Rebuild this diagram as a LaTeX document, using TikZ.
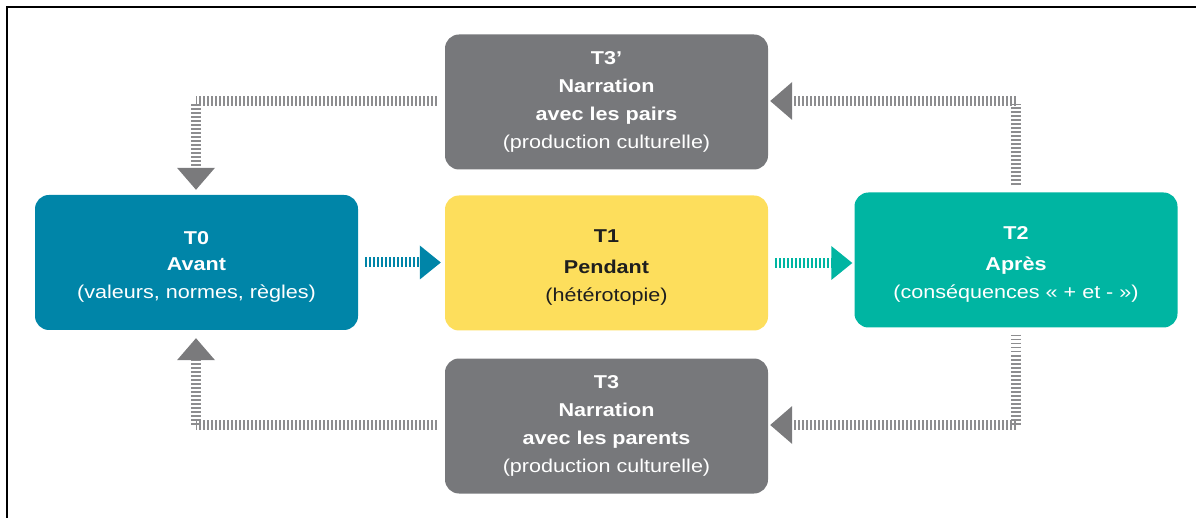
\documentclass[tikz,border=0pt]{standalone}
\usepackage{fontspec}
\setmainfont{Liberation Sans}[FakeStretch=1.16]
\usetikzlibrary{arrows.meta}
\definecolor{cblue}{HTML}{0085A8}
\definecolor{cyellow}{HTML}{FDDE5C}
\definecolor{cteal}{HTML}{00B5A2}
\definecolor{cgray}{HTML}{77787B}
\definecolor{hgray}{HTML}{8D8D8F}
\definecolor{agray}{HTML}{7A7A7C}
\definecolor{tdark}{HTML}{1E1E1E}
\newcommand{\topstrut}{\rule{0pt}{21pt}}
\begin{document}
\begin{tikzpicture}[x=1pt,y=-1pt,
  box/.style={rounded corners=14pt, minimum width=323pt, minimum height=135pt,
    align=center, inner sep=0pt, font=\fontsize{18.6}{28}\selectfont, text=white},
  hatch/.style={draw=#1, line width=10pt, dash pattern=on 1.8pt off 2.2pt},
  graytip/.style={-{Triangle[width=38pt,length=22pt,line width=0pt,fill=agray,color=agray]}},
  bluetip/.style={-{Triangle[width=34pt,length=21pt,line width=0pt,fill=cblue,color=cblue]}},
  tealtip/.style={-{Triangle[width=34pt,length=21pt,line width=0pt,fill=cteal,color=cteal]}}
]
\useasboundingbox (0,0) rectangle (1196,518);
\draw[line width=2pt] (7,530) -- (7,7) -- (1210,7);

\node[box, fill=cgray] (T3p) at (606.5,102)
  {\textbf{T3’}\\\textbf{Narration}\\\textbf{avec les pairs}\\(production culturelle)};
\node[box, fill=cblue] (T0) at (196.5,262.5)
  {\topstrut\textbf{T0}\\[-2pt]\textbf{Avant}\\(valeurs, normes, règles)};
\node[box, fill=cyellow, text=tdark] (T1) at (606.5,263)
  {\topstrut\textbf{T1}\\[3pt]\textbf{Pendant}\\(hétérotopie)};
\node[box, fill=cteal] (T2) at (1016,260)
  {\topstrut\textbf{T2}\\[3pt]\textbf{Après}\\(conséquences « + et - »)};
\node[box, fill=cgray] (T3) at (606.5,426)
  {\textbf{T3}\\\textbf{Narration}\\\textbf{avec les parents}\\(production culturelle)};

\coordinate (ctr) at (1016,101);
\coordinate (ctl) at (196,101);
\coordinate (cbr) at (1016,425);
\coordinate (cbl) at (196,425);

\draw[hatch=cblue, bluetip] ([xshift=7pt]T0.east) -- ([xshift=-4pt]T1.west |- T0.east);
\draw[hatch=cteal, tealtip] ([xshift=7pt]T1.east) -- ([xshift=-2pt]T2.west |- T1.east);

\draw[hatch=hgray] ([yshift=7pt]T2.north) -- ([yshift=-3pt]ctr);
\draw[hatch=hgray, graytip] (ctr) -- ([xshift=2pt]T3p.east |- ctr);
\draw[hatch=hgray] ([xshift=-8pt]T3p.west |- ctl) -- (ctl);
\draw[hatch=hgray, graytip] ([yshift=-3pt]ctl) -- ([yshift=5pt]T0.north -| ctl);

\draw[hatch=hgray] ([yshift=-7pt]T2.south) -- (cbr);
\draw[hatch=hgray, graytip] (cbr) -- ([xshift=2pt]T3.east |- cbr);
\draw[hatch=hgray] ([xshift=-8pt]T3.west |- cbl) -- (cbl);
\draw[hatch=hgray, graytip] (cbl) -- ([yshift=-8pt]T0.south -| cbl);
\end{tikzpicture}
\end{document}
